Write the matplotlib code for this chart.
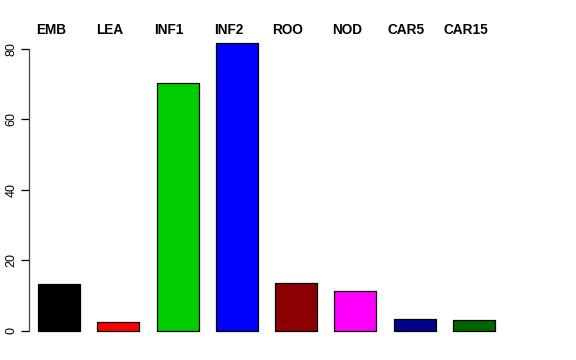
import matplotlib
matplotlib.use("Agg")
import matplotlib.pyplot as plt
import matplotlib.transforms as mtrans

plt.rcParams['font.family'] = ['Liberation Sans', 'DejaVu Sans']

names = ['EMB', 'LEA', 'INF1', 'INF2', 'ROO', 'NOD', 'CAR5', 'CAR15']
values = [13.2, 2.5, 70.3, 81.8, 13.5, 11.3, 3.3, 3.0]
colors = ['#000000', '#FF0000', '#00CD00', '#0000FF', '#8B0000', '#FF00FF', '#00008B', '#006400']

fig = plt.figure(figsize=(5.76, 3.6), dpi=100)
ax = fig.add_axes([29 / 576, 17.5 / 360, 475 / 576, 311.5 / 360])

pos = list(range(len(names)))
ax.bar(pos, values, width=0.71, color=colors, edgecolor='black', linewidth=0.9)

ax.set_xlim(-0.506, 7.506)
ax.set_ylim(-3.27, 85.1)

for s in ['top', 'right', 'bottom']:
    ax.spines[s].set_visible(False)
ax.spines['left'].set_bounds(0, 80)
ax.spines['left'].set_linewidth(0.9)
ax.spines['left'].set_color('#444444')
ax.set_xticks([])
ax.set_yticks([0, 20, 40, 60, 80])
ax.tick_params(axis='y', length=6, width=0.9, pad=2.5, labelsize=9)
for lab in ax.get_yticklabels():
    lab.set_rotation(90)
    lab.set_va('center')

trans = mtrans.blended_transform_factory(ax.transData, ax.transAxes)
for p, n in zip(pos, names):
    ax.text(p - 0.14, 0.9904, n, transform=trans, ha='center', va='baseline',
            fontsize=9.8, fontweight='bold', clip_on=False)

fig.savefig('out.png', dpi=100)
